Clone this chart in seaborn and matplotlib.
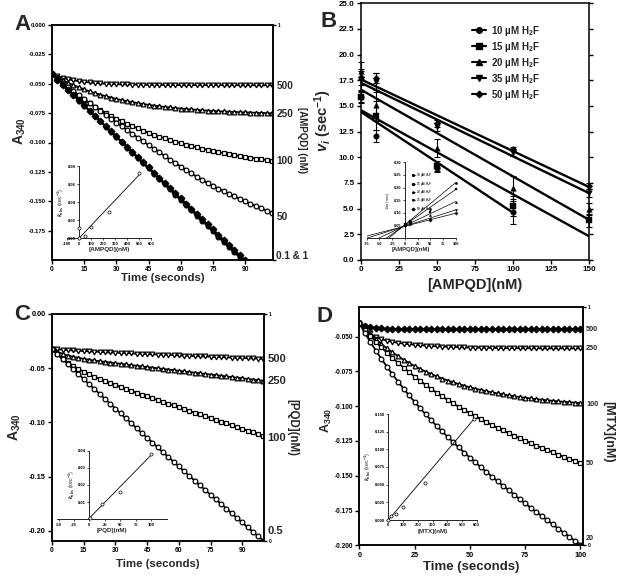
import numpy as np
import matplotlib
matplotlib.use("Agg")
import matplotlib.pyplot as plt
import seaborn as sns
from matplotlib.lines import Line2D

# ---------------- panel A: AMPQD progress curves ----------------
time_a = np.arange(0, 103, 2.5)
a_500 = [-0.0420, -0.0437, -0.0450, -0.0462, -0.0471, -0.0478, -0.0484, -0.0489, -0.0493, -0.0497,
         -0.0500, -0.0502, -0.0504, -0.0505, -0.0506, -0.0507, -0.0508, -0.0509, -0.0509, -0.0510,
         -0.0511, -0.0510, -0.0512, -0.0511, -0.0512, -0.0513, -0.0511, -0.0512, -0.0513, -0.0512,
         -0.0511, -0.0513, -0.0512, -0.0514, -0.0512, -0.0513, -0.0514, -0.0512, -0.0513, -0.0514,
         -0.0513, -0.0514]
a_250 = [-0.0420, -0.0446, -0.0470, -0.0492, -0.0512, -0.0531, -0.0548, -0.0565, -0.0579, -0.0593,
         -0.0606, -0.0618, -0.0629, -0.0639, -0.0648, -0.0657, -0.0665, -0.0673, -0.0679, -0.0686,
         -0.0692, -0.0697, -0.0702, -0.0707, -0.0711, -0.0715, -0.0719, -0.0722, -0.0726, -0.0729,
         -0.0731, -0.0734, -0.0736, -0.0738, -0.0740, -0.0742, -0.0744, -0.0745, -0.0747, -0.0748,
         -0.0750, -0.0751]
a_100 = [-0.0420, -0.0460, -0.0499, -0.0536, -0.0571, -0.0604, -0.0636, -0.0666, -0.0694, -0.0722,
         -0.0748, -0.0773, -0.0796, -0.0819, -0.0840, -0.0861, -0.0880, -0.0899, -0.0916, -0.0933,
         -0.0949, -0.0965, -0.0979, -0.0993, -0.1006, -0.1019, -0.1031, -0.1042, -0.1053, -0.1063,
         -0.1073, -0.1082, -0.1091, -0.1100, -0.1108, -0.1116, -0.1123, -0.1130, -0.1137, -0.1143,
         -0.1149, -0.1155]
a_50 = [-0.0420, -0.0457, -0.0493, -0.0528, -0.0563, -0.0597, -0.0631, -0.0665, -0.0698, -0.0731,
        -0.0764, -0.0797, -0.0830, -0.0862, -0.0894, -0.0926, -0.0958, -0.0990, -0.1021, -0.1052,
        -0.1083, -0.1114, -0.1145, -0.1175, -0.1205, -0.1234, -0.1263, -0.1291, -0.1318, -0.1344,
        -0.1369, -0.1393, -0.1416, -0.1438, -0.1459, -0.1480, -0.1501, -0.1521, -0.1541, -0.1560,
        -0.1579, -0.1598]
a_01 = [-0.0420, -0.0465, -0.0509, -0.0554, -0.0598, -0.0643, -0.0687, -0.0732, -0.0776, -0.0821,
        -0.0865, -0.0910, -0.0954, -0.0999, -0.1043, -0.1088, -0.1132, -0.1177, -0.1221, -0.1266,
        -0.1310, -0.1355, -0.1399, -0.1444, -0.1488, -0.1533, -0.1577, -0.1622, -0.1666, -0.1711,
        -0.1755, -0.1800, -0.1844, -0.1889, -0.1933, -0.1978, -0.2022]
a_1 = [-0.0420, -0.0464, -0.0508, -0.0552, -0.0596, -0.0640, -0.0684, -0.0728, -0.0772, -0.0816,
       -0.0860, -0.0904, -0.0948, -0.0992, -0.1036, -0.1080, -0.1124, -0.1168, -0.1212, -0.1256,
       -0.1300, -0.1344, -0.1388, -0.1432, -0.1476, -0.1520, -0.1564, -0.1608, -0.1652, -0.1696,
       -0.1740, -0.1784, -0.1828, -0.1872, -0.1916, -0.1960, -0.2004]
a_right_labels = ['500', '250', '100', '50', '0.1 & 1']
a_right_pos = [-0.0515, -0.0760, -0.1160, -0.1630, -0.1970]
# inset A: kobs vs [AMPQD]
ia_conc = [0.1, 1, 50, 100, 250, 500]
ia_kobs = [0.0, 0.011, 0.003, 0.0125, 0.0286, 0.0727]
ia_fit_x = [0, 500]
ia_fit_y = [0.0, 0.070]

# ---------------- panel B: vi vs [AMPQD] ----------------
conc_b = [0, 10, 50, 100, 150]
b_labels = ['10 µM H$_{\\mathrm{2}}$F', '15 µM H$_{\\mathrm{2}}$F', '20 µM H$_{\\mathrm{2}}$F',
            '35 µM H$_{\\mathrm{2}}$F', '50 µM H$_{\\mathrm{2}}$F']
b_markers = ['o', 's', '^', 'v', 'D']
vi_10 = [15.9, 12.1, 9.0, 4.65]
vi_15 = [15.9, 14.05, 9.15, 5.26, 3.85]
vi_20 = [18.45, 15.05, 10.9, 7.05, 4.95]
vi_35 = [17.5, 17.3, 12.95, 10.4, 6.55]
vi_50 = [17.8, 17.75, 13.3, 10.8, 7.2]
err_10 = [0.5, 0.6, 0.4, 1.1]
err_15 = [0.6, 1.4, 0.5, 1.0, 0.6]
err_20 = [0.8, 1.5, 0.9, 1.1, 0.6]
err_35 = [0.9, 0.9, 0.4, 0.3, 0.4]
err_50 = [0.8, 0.5, 0.3, 0.2, 0.3]
fit_x_10 = [0, 100]
fit_x = [0, 150]
fit_10 = [14.44, 4.6]
fit_15 = [14.6, 2.3]
fit_20 = [16.6, 3.9]
fit_35 = [17.27, 6.5]
fit_50 = [17.6, 7.1]
# inset B: 1/vi vs [AMPQD]
ib_conc = [0, 10, 50, 100]
ib_10 = [0.055, 0.070, 0.115, 0.220]
ib_15 = [0.058, 0.068, 0.105, 0.193]
ib_20 = [0.052, 0.065, 0.090, 0.145]
ib_35 = [0.056, 0.060, 0.078, 0.112]
ib_50 = [0.054, 0.058, 0.074, 0.099]
ib_x0 = [-32, -37, -52, -75.5, -92.5]
ib_y100 = [0.220, 0.193, 0.145, 0.112, 0.099]

# ---------------- panel C: PQD progress curves ----------------
time_c = np.arange(0, 101, 2.5)
c_500 = [-0.0323, -0.0327, -0.0330, -0.0333, -0.0336, -0.0339, -0.0342, -0.0345, -0.0347, -0.0350,
         -0.0352, -0.0355, -0.0357, -0.0359, -0.0361, -0.0364, -0.0366, -0.0368, -0.0370, -0.0372,
         -0.0374, -0.0376, -0.0378, -0.0380, -0.0382, -0.0384, -0.0386, -0.0388, -0.0390, -0.0392,
         -0.0394, -0.0396, -0.0398, -0.0400, -0.0402, -0.0404, -0.0406, -0.0408, -0.0410, -0.0412,
         -0.0414]
c_250 = [-0.0323, -0.0348, -0.0368, -0.0383, -0.0395, -0.0405, -0.0414, -0.0422, -0.0429, -0.0436,
         -0.0442, -0.0448, -0.0454, -0.0460, -0.0466, -0.0472, -0.0478, -0.0484, -0.0490, -0.0495,
         -0.0501, -0.0507, -0.0513, -0.0518, -0.0524, -0.0530, -0.0536, -0.0541, -0.0547, -0.0553,
         -0.0559, -0.0564, -0.0570, -0.0576, -0.0582, -0.0587, -0.0593, -0.0599, -0.0605, -0.0610,
         -0.0616]
c_100 = [-0.0323, -0.0371, -0.0412, -0.0448, -0.0479, -0.0507, -0.0532, -0.0556, -0.0578, -0.0599,
         -0.0618, -0.0637, -0.0656, -0.0674, -0.0692, -0.0709, -0.0726, -0.0744, -0.0760, -0.0777,
         -0.0794, -0.0811, -0.0827, -0.0844, -0.0861, -0.0878, -0.0894, -0.0911, -0.0927, -0.0944,
         -0.0960, -0.0977, -0.0993, -0.1010, -0.1026, -0.1043, -0.1059, -0.1076, -0.1092, -0.1109,
         -0.1125]
c_05 = [-0.0323, -0.0369, -0.0416, -0.0462, -0.0508, -0.0554, -0.0600, -0.0646, -0.0691, -0.0737,
        -0.0782, -0.0828, -0.0873, -0.0918, -0.0963, -0.1008, -0.1053, -0.1097, -0.1142, -0.1186,
        -0.1231, -0.1275, -0.1319, -0.1363, -0.1407, -0.1450, -0.1494, -0.1538, -0.1581, -0.1624,
        -0.1667, -0.1710, -0.1753, -0.1796, -0.1839, -0.1882, -0.1924, -0.1967, -0.2009, -0.2051,
        -0.2093]
c_right_labels = ['500', '250', '100', '0.5']
c_right_pos = [-0.0415, -0.0615, -0.1140, -0.2000]
ic_conc = [0.5, 20, 50, 100]
ic_kobs = [0.001, 0.0092, 0.016, 0.0378]
ic_fit_x = [-2, 100]
ic_fit_y = [0.0, 0.0375]

# ---------------- panel D: MTX progress curves ----------------
time_d = np.arange(0, 101, 2.5)
d_500 = [-0.0405, -0.0422, -0.0432, -0.0438, -0.0441, -0.0444, -0.0445, -0.0446, -0.0446, -0.0447,
         -0.0446, -0.0447, -0.0448, -0.0447, -0.0446, -0.0447, -0.0448, -0.0447, -0.0447, -0.0446,
         -0.0447, -0.0448, -0.0447, -0.0447, -0.0446, -0.0447, -0.0448, -0.0447, -0.0446, -0.0447,
         -0.0447, -0.0448, -0.0447, -0.0446, -0.0447, -0.0447, -0.0448, -0.0447, -0.0447, -0.0446,
         -0.0447]
d_250 = [-0.0405, -0.0446, -0.0478, -0.0503, -0.0518, -0.0530, -0.0538, -0.0545, -0.0551, -0.0555,
         -0.0559, -0.0562, -0.0565, -0.0568, -0.0570, -0.0572, -0.0574, -0.0575, -0.0577, -0.0578,
         -0.0579, -0.0580, -0.0581, -0.0581, -0.0582, -0.0582, -0.0583, -0.0583, -0.0583, -0.0584,
         -0.0584, -0.0584, -0.0584, -0.0585, -0.0585, -0.0585, -0.0585, -0.0585, -0.0585, -0.0585,
         -0.0585]
d_100 = [-0.0405, -0.0446, -0.0485, -0.0521, -0.0554, -0.0585, -0.0614, -0.0641, -0.0667, -0.0690,
         -0.0712, -0.0733, -0.0752, -0.0769, -0.0786, -0.0802, -0.0816, -0.0829, -0.0842, -0.0854,
         -0.0865, -0.0875, -0.0884, -0.0893, -0.0901, -0.0909, -0.0916, -0.0923, -0.0929, -0.0935,
         -0.0940, -0.0945, -0.0950, -0.0954, -0.0958, -0.0962, -0.0966, -0.0969, -0.0972, -0.0975,
         -0.0978]
d_50 = [-0.0405, -0.0451, -0.0495, -0.0537, -0.0578, -0.0616, -0.0653, -0.0689, -0.0723, -0.0756,
        -0.0788, -0.0818, -0.0848, -0.0876, -0.0904, -0.0930, -0.0956, -0.0981, -0.1005, -0.1028,
        -0.1051, -0.1073, -0.1094, -0.1115, -0.1136, -0.1156, -0.1175, -0.1194, -0.1212, -0.1231,
        -0.1248, -0.1266, -0.1283, -0.1300, -0.1316, -0.1332, -0.1348, -0.1364, -0.1379, -0.1395,
        -0.1410]
d_20 = [-0.0405, -0.0474, -0.0539, -0.0601, -0.0660, -0.0717, -0.0772, -0.0824, -0.0874, -0.0923,
        -0.0969, -0.1015, -0.1058, -0.1101, -0.1142, -0.1182, -0.1222, -0.1260, -0.1297, -0.1334,
        -0.1370, -0.1405, -0.1439, -0.1473, -0.1507, -0.1540, -0.1572, -0.1604, -0.1636, -0.1668,
        -0.1699, -0.1730, -0.1760, -0.1790, -0.1820, -0.1850, -0.1880, -0.1910, -0.1939, -0.1968,
        -0.1997]
d_right_labels = ['500', '250', '100', '50', '20']
d_right_pos = [-0.0447, -0.0584, -0.0990, -0.1412, -0.1950]
id_conc = [0, 20, 50, 100, 250, 580]
id_kobs = [0.0, 0.006, 0.009, 0.019, 0.052, 0.1425]
id_fit_x = [0, 580]
id_fit_y = [0.0, 0.1425]

# ---------------- style ----------------
sns.set_style("ticks")
plt.rcParams['font.family'] = ['Liberation Sans', 'DejaVu Sans']
plt.rcParams['font.weight'] = 'bold'
plt.rcParams['axes.unicode_minus'] = False
plt.rcParams['mathtext.fontset'] = 'custom'
plt.rcParams['mathtext.rm'] = 'Liberation Sans:bold'
plt.rcParams['mathtext.it'] = 'Liberation Sans:italic:bold'
plt.rcParams['mathtext.bf'] = 'Liberation Sans:bold'
plt.rcParams['axes.linewidth'] = 1.1
plt.rcParams['axes.edgecolor'] = 'black'
plt.rcParams['xtick.color'] = 'black'
plt.rcParams['ytick.color'] = 'black'

W, H = 618, 576
fig = plt.figure(figsize=(W / 100, H / 100), dpi=100)


def rect(l, t, r, b):
    return [l / W, 1 - b / H, (r - l) / W, (b - t) / H]


def progress_panel(ax, t, curves, xlim, xticks, ylim, yticks, yfmt, xfs, yfs, rlabels=('0', '1')):
    for y, mk, face in curves:
        sns.lineplot(x=t[:len(y)], y=y, ax=ax, color='black', linewidth=1.3,
                     marker=mk, markersize=3.4, markerfacecolor=face,
                     markeredgecolor='black', markeredgewidth=0.9)
    ax.set_xlim(*xlim)
    ax.set_ylim(*ylim)
    ax.set_xticks(xticks)
    ax.set_yticks(yticks)
    ax.set_yticklabels([yfmt % v for v in yticks])
    ax.tick_params(axis='x', labelsize=xfs, length=3, width=1, pad=1.5)
    ax.tick_params(axis='y', labelsize=yfs, length=3, width=1, pad=1.5)
    ax2 = ax.twinx()
    ax2.set_ylim(0, 1)
    ax2.set_yticks([0, 1])
    ax2.set_yticklabels(list(rlabels))
    ax2.tick_params(labelsize=3.5, length=2.5, width=1, pad=1)
    return ax2


def right_labels(ax, labels, pos, fs):
    for lab, y in zip(labels, pos):
        ax.text(1.015, y, lab, transform=ax.get_yaxis_transform(), ha='left',
                va='center', fontsize=fs, fontweight='bold')


def inset_style(ax, fs=3):
    ax.spines['top'].set_visible(False)
    ax.spines['right'].set_visible(False)
    ax.spines['left'].set_position(('data', 0))
    for s in ['left', 'bottom']:
        ax.spines[s].set_linewidth(0.6)
    ax.tick_params(labelsize=fs, length=1.5, width=0.5, pad=1)
    ax.patch.set_alpha(0)


# ---------------- A ----------------
axA = fig.add_axes(rect(52, 25, 273, 260))
axA2 = progress_panel(axA, time_a,
                      [(a_500, 'v', 'white'), (a_250, '^', 'white'), (a_100, 's', 'white'),
                       (a_50, 'o', 'white'), (a_01, 'o', 'black'), (a_1, 'D', 'black')],
                      (0, 103), [0, 15, 30, 45, 60, 75, 90], (-0.2, 0.0),
                      [0.0, -0.025, -0.05, -0.075, -0.1, -0.125, -0.15, -0.175], '%.3f', 4.8, 4.3,
                      rlabels=('', '1'))
right_labels(axA, a_right_labels, a_right_pos, 7.2)
axA.set_xlabel('Time (seconds)', fontsize=8.2, fontweight='bold')
axA.xaxis.set_label_coords(0.5, -0.055)
axA.set_ylabel('A$_{\\mathrm{340}}$', fontsize=10, fontweight='bold', va='center')
axA.yaxis.set_label_coords(-0.145, 0.55)
axA2.set_ylabel('[AMPQD] (nM)', rotation=270, va='center', fontsize=7, fontweight='bold')
axA2.yaxis.set_label_coords(1.13, 0.51)

iA = fig.add_axes(rect(67, 166, 151, 238.3))
sns.lineplot(x=ia_fit_x, y=ia_fit_y, ax=iA, color='black', linewidth=0.6)
sns.scatterplot(x=ia_conc, y=ia_kobs, ax=iA, marker='o', s=5, facecolor='white',
                edgecolor='black', linewidth=0.5, zorder=3, clip_on=False)
iA.set_xlim(-100, 600)
iA.set_ylim(0, 0.08)
iA.set_xticks(range(-100, 601, 100))
iA.set_yticks([0, 0.02, 0.04, 0.06, 0.08])
iA.set_yticklabels(['%.2f' % v for v in [0, 0.02, 0.04, 0.06, 0.08]])
inset_style(iA)
iA.set_xlabel('[AMPQD](nM)', fontsize=4.6, fontweight='bold', labelpad=1)
iA.set_ylabel('$\\mathit{k}_{\\mathrm{obs}}$ (sec$^{\\mathrm{-1}}$)', fontsize=3.8, labelpad=1)

# ---------------- B ----------------
axB = fig.add_axes(rect(360.7, 3.3, 589.3, 260))
b_vals = [vi_10, vi_15, vi_20, vi_35, vi_50]
b_errs = [err_10, err_15, err_20, err_35, err_50]
b_fits = [(fit_x_10, fit_10), (fit_x, fit_15), (fit_x, fit_20), (fit_x, fit_35), (fit_x, fit_50)]
for vals, errs, mk, (fx, fy) in zip(b_vals, b_errs, b_markers, b_fits):
    xs = conc_b[:len(vals)]
    sns.lineplot(x=fx, y=fy, ax=axB, color='black', linewidth=1.7)
    axB.errorbar(xs, vals, yerr=errs, fmt='none', ecolor='black', elinewidth=0.8,
                 capsize=2.5, capthick=0.8, clip_on=False)
    sns.scatterplot(x=xs, y=vals, ax=axB, marker=mk, s=16 if mk != 'D' else 11,
                    color='black', edgecolor='black', linewidth=0.3, zorder=3, clip_on=False)
axB.set_xlim(0, 150)
axB.set_ylim(0, 25)
axB.set_xticks([0, 25, 50, 75, 100, 125, 150])
yb = np.arange(0, 25.1, 2.5)
axB.set_yticks(yb)
axB.set_yticklabels(['%.1f' % v for v in yb])
axB.tick_params(axis='both', labelsize=5.8, length=3, width=1, pad=1.5)
axB.tick_params(axis='y', right=True)
axB.set_xlabel('[AMPQD](nM)', fontsize=10.5, fontweight='bold')
axB.xaxis.set_label_coords(0.5, -0.072)
axB.set_ylabel('$\\mathit{v}_{\\mathit{i}}$ (sec$^{\\mathrm{-1}}$)', fontsize=10.5,
               fontweight='bold', va='center')
axB.yaxis.set_label_coords(-0.164, 0.545)
handles = [Line2D([], [], color='black', lw=1.5, marker=m, markersize=4 if m != 'D' else 3.3)
           for m in b_markers]
axB.legend(handles, b_labels, loc='upper left', bbox_to_anchor=(0.47, 0.935), frameon=False,
           handlelength=1.4, handletextpad=0.5, labelspacing=0.2,
           borderaxespad=0, prop={'weight': 'bold', 'size': 7})

iB = fig.add_axes(rect(366.7, 162.3, 455.7, 238.3))
ib_vals = [ib_10, ib_15, ib_20, ib_35, ib_50]
for vals, mk, x0, y100 in zip(ib_vals, b_markers, ib_x0, ib_y100):
    sns.lineplot(x=[x0, 100], y=[0, y100], ax=iB, color='black', linewidth=0.5)
    sns.scatterplot(x=ib_conc, y=vals, ax=iB, marker=mk, s=3, color='black',
                    edgecolor='black', linewidth=0.2, zorder=3, clip_on=False)
iB.set_xlim(-75, 100)
iB.set_ylim(0, 0.30)
iB.set_xticks(range(-75, 101, 25))
ybi = [0.05, 0.10, 0.15, 0.20, 0.25, 0.30]
iB.set_yticks(ybi)
iB.set_yticklabels(['%.2f' % v for v in ybi])
inset_style(iB, 2.8)
iB.set_xlabel('[AMPQD](nM)', fontsize=4.2, fontweight='bold', labelpad=1)
iB.set_ylabel('1/$\\mathit{v}_{\\mathit{i}}$ (sec)', fontsize=3, labelpad=1)
ih = [Line2D([], [], color='black', lw=0.5, marker=m, markersize=1.3) for m in b_markers]
iB.legend(ih, b_labels, loc='upper left', bbox_to_anchor=(0.49, 0.9), frameon=False,
          handlelength=1.2, handletextpad=0.4, labelspacing=0.15, borderaxespad=0,
          prop={'weight': 'bold', 'size': 2.2})

# ---------------- C ----------------
axC = fig.add_axes(rect(52, 314, 264, 540.7))
axC2 = progress_panel(axC, time_c,
                      [(c_500, 'v', 'white'), (c_250, '^', 'white'), (c_100, 's', 'white'),
                       (c_05, 'o', 'white')],
                      (0, 100.3), [0, 15, 30, 45, 60, 75, 90], (-0.2092, 0.0),
                      [0.0, -0.05, -0.1, -0.15, -0.2], '%.2f', 4.8, 5.3)
right_labels(axC, c_right_labels, c_right_pos, 8.0)
axC.set_xlabel('Time (seconds)', fontsize=8.2, fontweight='bold')
axC.xaxis.set_label_coords(0.5, -0.082)
axC.set_ylabel('A$_{\\mathrm{340}}$', fontsize=10, fontweight='bold', va='center')
axC.yaxis.set_label_coords(-0.175, 0.5)
axC2.set_ylabel('[PQD](nM)', rotation=270, va='center', fontsize=8.3, fontweight='bold')
axC2.yaxis.set_label_coords(1.135, 0.5)

iC = fig.add_axes(rect(57.3, 450.7, 166.7, 519.3))
sns.lineplot(x=ic_fit_x, y=ic_fit_y, ax=iC, color='black', linewidth=0.6)
sns.scatterplot(x=ic_conc, y=ic_kobs, ax=iC, marker='o', s=5, facecolor='white',
                edgecolor='black', linewidth=0.5, zorder=3, clip_on=False)
iC.set_xlim(-52, 125)
iC.set_ylim(0, 0.04)
iC.set_xticks([-50, -25, 0, 25, 50, 75, 100])
iC.set_yticks([0.01, 0.02, 0.03, 0.04])
iC.set_yticklabels(['0.01', '0.02', '0.03', '0.04'])
inset_style(iC)
iC.set_xlabel('[PQD](nM)', fontsize=4.5, fontweight='bold', labelpad=1)
iC.set_ylabel('$\\mathit{k}_{\\mathrm{obs}}$ (sec$^{\\mathrm{-1}}$)', fontsize=3.8, labelpad=1)

# ---------------- D ----------------
axD = fig.add_axes(rect(359.3, 307.3, 582.7, 545.3))
axD2 = progress_panel(axD, time_d,
                      [(d_500, 'D', 'black'), (d_250, 'v', 'white'), (d_100, '^', 'white'),
                       (d_50, 's', 'white'), (d_20, 'o', 'white')],
                      (0, 101), [0, 25, 50, 75, 100], (-0.2, -0.029),
                      [-0.05, -0.075, -0.1, -0.125, -0.15, -0.175, -0.2], '%.3f', 5.2, 4.7)
right_labels(axD, d_right_labels, d_right_pos, 5.2)
axD.set_xlabel('Time (seconds)', fontsize=9.5, fontweight='bold')
axD.xaxis.set_label_coords(0.5, -0.066)
axD.set_ylabel('A$_{\\mathrm{340}}$', fontsize=9, fontweight='bold', va='center')
axD.yaxis.set_label_coords(-0.145, 0.526)
axD2.set_ylabel('[MTX](nM)', rotation=270, va='center', fontsize=9, fontweight='bold')
axD2.yaxis.set_label_coords(1.113, 0.477)

iD = fig.add_axes(rect(388.3, 414, 476.7, 520))
sns.lineplot(x=id_fit_x, y=id_fit_y, ax=iD, color='black', linewidth=0.6)
sns.scatterplot(x=id_conc, y=id_kobs, ax=iD, marker='o', s=5, facecolor='white',
                edgecolor='black', linewidth=0.5, zorder=3, clip_on=False)
iD.set_xlim(0, 600)
iD.set_ylim(0, 0.15)
iD.set_xticks(range(0, 601, 100))
ydi = [0, 0.025, 0.05, 0.075, 0.1, 0.125, 0.15]
iD.set_yticks(ydi)
iD.set_yticklabels(['%.3f' % v for v in ydi])
inset_style(iD)
iD.set_xlabel('[MTX](nM)', fontsize=4.5, fontweight='bold', labelpad=1)
iD.set_ylabel('$\\mathit{k}_{\\mathrm{obs}}$ (sec$^{\\mathrm{-1}}$)', fontsize=3.8, labelpad=1)

# panel letters
for letter, x, y in [('A', 14, 30), ('B', 320, 26.7), ('C', 14.5, 320), ('D', 316.7, 321.7)]:
    fig.text(x / W, 1 - y / H, letter, fontsize=16, fontweight='bold', va='baseline')

fig.savefig('out.png', dpi=100)
